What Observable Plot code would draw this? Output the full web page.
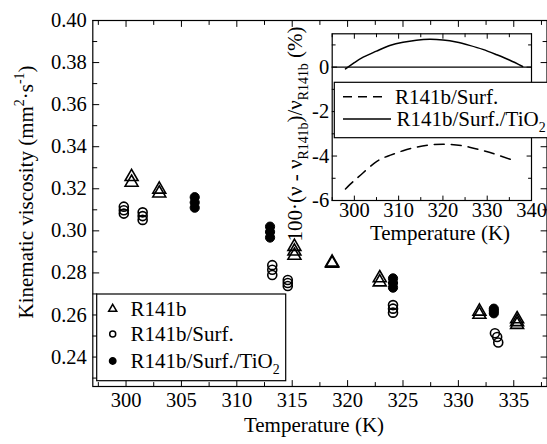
<!DOCTYPE html>
<html><head><meta charset="utf-8">
<script src="https://cdn.jsdelivr.net/npm/d3@7"></script>
<script src="https://cdn.jsdelivr.net/npm/@observablehq/plot@0.6"></script>
<style>
html,body{margin:0;padding:0;background:#fff;overflow:hidden;}
#wrap{position:relative;width:547px;height:444px;overflow:hidden;}
#wrap svg{position:absolute;left:0;top:0;font-family:"Liberation Serif","Times New Roman",Times,serif !important;}
</style></head><body><div id="wrap"></div>
<script>
const FONT = '"Liberation Serif","Times New Roman",Times,serif';

// ---- main chart data: temperature (K) and kinematic viscosity (mm2/s) ----
const tR141b = [300.5, 300.5, 303.0, 303.0, 315.2, 315.2, 315.2, 318.6, 318.6, 322.9, 322.9, 331.9, 331.9, 335.3, 335.3, 335.3];
const vR141b = [0.3257, 0.3230, 0.3197, 0.3179, 0.2925, 0.2903, 0.2883, 0.2850, 0.2845, 0.2776, 0.2756, 0.2617, 0.2602, 0.2581, 0.2567, 0.2554];

const tSurf = [299.8, 299.8, 299.8, 301.5, 301.5, 301.5, 313.2, 313.2, 313.2, 314.6, 314.6, 314.6, 324.1, 324.1, 324.1, 333.3, 333.5, 333.6];
const vSurf = [0.3115, 0.3098, 0.3082, 0.3088, 0.3070, 0.3052, 0.2837, 0.2815, 0.2790, 0.2766, 0.2752, 0.2738, 0.2647, 0.2630, 0.2611, 0.2513, 0.2495, 0.2469];

const tTiO2 = [306.2, 306.2, 306.2, 313.0, 313.0, 313.0, 324.1, 324.1, 324.1, 333.2, 333.2, 333.2];
const vTiO2 = [0.3160, 0.3135, 0.3110, 0.3020, 0.2995, 0.2968, 0.2774, 0.2752, 0.2730, 0.2630, 0.2620, 0.2608];

// ---- inset data: deviation (%) vs temperature (K) ----
const tDevSurf = [298, 300, 302, 305, 308, 311, 314, 317, 320, 323, 326, 329, 332, 336];
const dDevSurf = [-5.48, -5.10, -4.75, -4.25, -3.97, -3.76, -3.60, -3.50, -3.47, -3.50, -3.60, -3.75, -3.93, -4.20];
const tDevTiO2 = [298, 300, 302, 305, 308, 311, 314, 317, 320, 323, 326, 329, 332, 335, 338];
const dDevTiO2 = [-0.08, 0.20, 0.45, 0.72, 0.97, 1.12, 1.21, 1.25, 1.22, 1.13, 0.98, 0.80, 0.57, 0.32, 0.03];

// ---- ticks ----
const xMajor = [300, 305, 310, 315, 320, 325, 330, 335];
const xMinor = [297.5, 302.5, 307.5, 312.5, 317.5, 322.5, 327.5, 332.5, 337.5];
const yMajor = [0.24, 0.26, 0.28, 0.30, 0.32, 0.34, 0.36, 0.38, 0.40];
const yMinor = [0.23, 0.25, 0.27, 0.29, 0.31, 0.33, 0.35, 0.37, 0.39];
const ixMajor = [300, 310, 320, 330, 340];
const ixMinor = [295, 305, 315, 325, 335];
const iyMajor = [-6, -4, -2, 0];
const iyMinor = [-5, -3, -1, 1];

// labels
const seriesNames = ["R141b", "R141b/Surf.", "R141b/Surf./TiO"];

const rows = (T, V) => T.map((t, i) => ({T: t, v: V[i]}));

const tickShape = {draw(ctx, l) { ctx.moveTo(0, 0); ctx.lineTo(0, -l); }};
function ticks(data, ch, side, len) {
  const rot = {bottom: 0, left: 90, top: 180, right: 270}[side];
  return Plot.vector(data, {[ch]: d => d, frameAnchor: side, rotate: rot, length: len,
    anchor: "start", shape: tickShape, stroke: "black", strokeWidth: 1});
}
function allTicks(xMa, xMi, yMa, yMi, L, l) {
  return [
    ticks(xMa, "x", "bottom", L), ticks(xMi, "x", "bottom", l),
    ticks(xMa, "x", "top", L), ticks(xMi, "x", "top", l),
    ticks(yMa, "y", "left", L), ticks(yMi, "y", "left", l),
    ticks(yMa, "y", "right", L), ticks(yMi, "y", "right", l)
  ];
}

const baseStyle = {fontFamily: FONT, fontSize: "20.5px", background: "transparent", color: "black", overflow: "visible"};
const txt = {fontFamily: FONT, fontSize: 20.5, fill: "black"};

const main = Plot.plot({
  width: 547, height: 444,
  marginLeft: 92.3, marginRight: 0.5, marginTop: 20, marginBottom: 58,
  x: {domain: [297, 338]},
  y: {domain: [0.226, 0.40]},
  style: baseStyle,
  marks: [
    Plot.frame({stroke: "black", strokeWidth: 1.2}),
    ...allTicks(xMajor, xMinor, yMajor, yMinor, 6, 4),
    Plot.axisX(xMajor, {tickSize: 0, tickPadding: 6, tickFormat: d => String(d), label: null, ...txt}),
    Plot.axisY(yMajor, {tickSize: 0, tickPadding: 6, tickFormat: d => d.toFixed(2), label: null, ...txt}),
    Plot.dot(rows(tR141b, vR141b), {x: "T", y: "v", symbol: "triangle", r: 4.8, stroke: "black", strokeWidth: 1.6, fill: "none"}),
    Plot.dot(rows(tSurf, vSurf), {x: "T", y: "v", symbol: "circle", r: 4.5, stroke: "black", strokeWidth: 1.6, fill: "none"}),
    Plot.dot(rows(tTiO2, vTiO2), {x: "T", y: "v", symbol: "circle", r: 4.6, stroke: "black", strokeWidth: 1, fill: "black"})
  ]
});

const inset = Plot.plot({
  width: 547, height: 444,
  marginLeft: 331.7, marginRight: 16, marginTop: 33.3, marginBottom: 244,
  x: {domain: [295, 340]},
  y: {domain: [-6, 1.5]},
  style: baseStyle,
  marks: [
    Plot.frame({stroke: "black", strokeWidth: 1.2, fill: "white"}),
    Plot.ruleY([0], {stroke: "black", strokeWidth: 1.2}),
    ...allTicks(ixMajor, ixMinor, iyMajor, iyMinor, 4.5, 3),
    Plot.axisX(ixMajor, {tickSize: 0, tickPadding: 2, tickFormat: d => String(d), label: null, ...txt}),
    Plot.axisY(iyMajor, {tickSize: 0, tickPadding: 3, tickFormat: d => String(d), label: null, ...txt}),
    Plot.line(rows(tDevSurf, dDevSurf), {x: "T", y: "v", curve: "natural", stroke: "black", strokeWidth: 1.5, strokeDasharray: "10,7"}),
    Plot.line(rows(tDevTiO2, dDevTiO2), {x: "T", y: "v", curve: "natural", stroke: "black", strokeWidth: 1.5})
  ]
});

const wrap = document.getElementById("wrap");
wrap.appendChild(main);
wrap.appendChild(inset);
for (const s of [main, inset]) d3.select(s).attr("font-family", FONT).style("font-family", FONT);

// rich text helper (sup/sub via tspans)
function rich(sel, parts, size) {
  let shift = 0;
  parts.forEach(p => {
    const [t, kind] = Array.isArray(p) ? p : [p, null];
    const target = kind === "sup" ? -0.42 * size : kind === "sub" ? 0.28 * size : 0;
    sel.append("tspan").text(t)
      .attr("dy", target - shift)
      .attr("font-size", kind ? size * 0.66 : size);
    shift = target;
  });
}
function label(parent, anchor) {
  return parent.append("text").attr("font-family", FONT).attr("text-anchor", anchor).attr("fill", "black");
}

const ms = d3.select(main);
// main axis titles
rich(label(ms, "middle").attr("transform", "translate(33,192) rotate(-90)"),
  ["Kinematic viscosity (mm", ["2", "sup"], "·s", ["-1", "sup"], ")"], 21);
rich(label(ms, "middle").attr("x", 314).attr("y", 432), ["Temperature (K)"], 21);

// main legend
const lg = ms.append("g");
lg.append("rect").attr("x", 96.7).attr("y", 294).attr("width", 189).attr("height", 86.7)
  .attr("fill", "white").attr("stroke", "black").attr("stroke-width", 1.2);
const sym = [d3.symbolTriangle, d3.symbolCircle, d3.symbolCircle];
const symR = [3.0, 3.0, 3.2];
const rowY = [309, 334, 361];
seriesNames.forEach((name, i) => {
  lg.append("path").attr("d", d3.symbol(sym[i], Math.PI * symR[i] * symR[i])())
    .attr("transform", `translate(112.7,${rowY[i]})`)
    .attr("fill", i === 2 ? "black" : "none").attr("stroke", "black").attr("stroke-width", 1.5);
  const t = label(lg, "start").attr("x", 130.5).attr("y", rowY[i] + 7);
  rich(t, i === 2 ? [name, ["2", "sub"]] : [name], 21);
});

// inset titles and legend
const is = d3.select(inset);
rich(label(is, "middle").attr("transform", "translate(302,134) rotate(-90)"),
  ["100·(ν - ν", ["R141b", "sub"], ")/ν", ["R141b", "sub"], " (%)"], 21);
rich(label(is, "middle").attr("x", 440).attr("y", 240), ["Temperature (K)"], 21);

const il = is.append("g");
il.append("rect").attr("x", 334.3).attr("y", 82.3).attr("width", 240).attr("height", 55.4)
  .attr("fill", "white").attr("stroke", "black").attr("stroke-width", 1.2);
il.append("line").attr("x1", 343).attr("x2", 388).attr("y1", 96.7).attr("y2", 96.7)
  .attr("stroke", "black").attr("stroke-width", 1.5).attr("stroke-dasharray", "9,6");
il.append("line").attr("x1", 343).attr("x2", 391).attr("y1", 119).attr("y2", 119)
  .attr("stroke", "black").attr("stroke-width", 1.5);
rich(label(il, "start").attr("x", 395).attr("y", 103.5), [seriesNames[1]], 21);
rich(label(il, "start").attr("x", 396.5).attr("y", 126), [seriesNames[2], ["2", "sub"]], 21);
</script></body></html>
